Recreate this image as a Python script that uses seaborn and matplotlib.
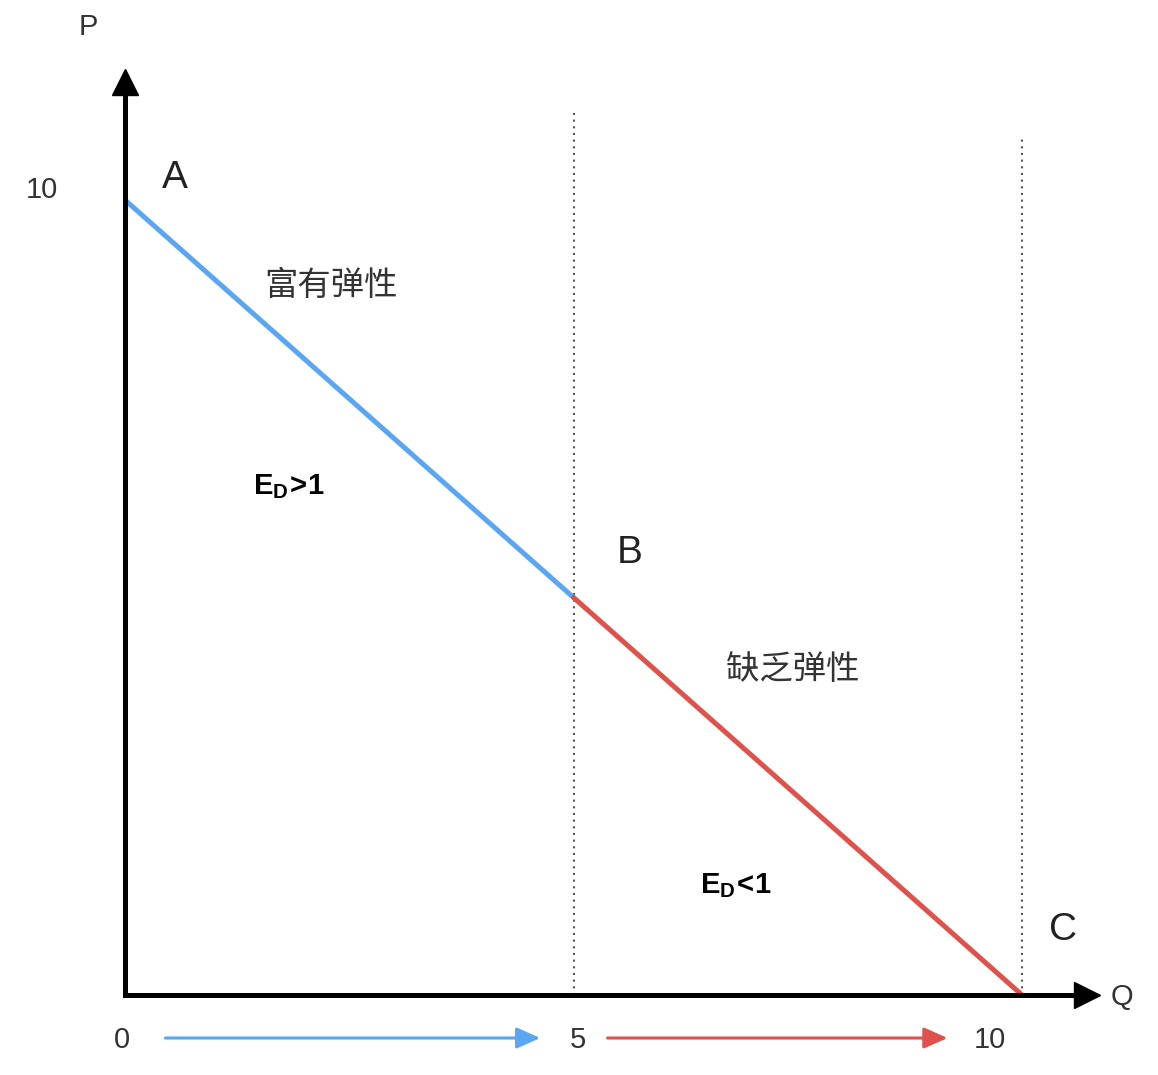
import matplotlib
matplotlib.use("Agg")
from matplotlib import pyplot as plt
import seaborn as sns
import pandas as pd

# demand curve points (Q, P)
elastic_q = [0, 5]
elastic_p = [10, 5]
inelastic_q = [5, 10]
inelastic_p = [5, 0]

# point labels
point_names = ["A", "B", "C"]
point_q = [0.56, 5.63, 10.46]
point_p = [10.28, 5.56, 0.82]

# tick labels on the axes
x_tick_labels = ["0", "5", "10"]
x_tick_pos = [-0.03, 5.05, 9.64]
y_tick_labels = ["10"]
y_tick_pos = [10.13]

# region labels
region_texts = ["富有弹性", "缺乏弹性"]
region_q = [2.30, 7.44]
region_p = [8.93, 4.09]
ed_texts = [r"$\mathbf{E_D\!>\!1}$", r"$\mathbf{E_D\!<\!1}$"]
ed_q = [1.83, 6.81]
ed_p = [6.40, 1.37]

blue = "#5aa6f2"
red = "#df524c"

sns.set_theme(style="white")
plt.rcParams["font.family"] = ["Liberation Sans", "Noto Sans CJK SC", "DejaVu Sans"]
plt.rcParams["mathtext.fontset"] = "custom"
plt.rcParams["mathtext.rm"] = "Liberation Sans"
plt.rcParams["mathtext.bf"] = "Liberation Sans:bold"

fig = plt.figure(figsize=(11.58, 10.75), dpi=100)
ax = fig.add_axes([125 / 1158, 80 / 1075, 975 / 1158, 927 / 1075])
xmax = 975 / 89.7
ymax = 927 / 79.5
ax.set_xlim(0, xmax)
ax.set_ylim(0, ymax)
ax.axis("off")

# dotted guides
ax.vlines(5, 0, (995 - 113) / 79.5, colors="#555555", linestyles=(0, (1, 2.2)), lw=1.5)
ax.vlines(10, 0, (995 - 135) / 79.5, colors="#555555", linestyles=(0, (1, 2.2)), lw=1.5)

# demand curve
df1 = pd.DataFrame({"Q": elastic_q, "P": elastic_p})
df2 = pd.DataFrame({"Q": inelastic_q, "P": inelastic_p})
sns.lineplot(data=df1, x="Q", y="P", color=blue, lw=3.6, ax=ax, zorder=3)
sns.lineplot(data=df2, x="Q", y="P", color=red, lw=3.6, ax=ax, zorder=3)

# axes: L-shaped line plus arrowheads
ax.plot([0, 0, xmax - 0.25], [ymax - 0.3, 0, 0], color="black", lw=3.6,
        solid_joinstyle="miter", clip_on=False, zorder=4)
ax.plot([0], [ymax - 0.17], marker="^", ms=19, color="black", clip_on=False, zorder=4)
ax.plot([xmax - 0.15], [0], marker=">", ms=19, color="black", clip_on=False, zorder=4)

# direction arrows under the Q axis
yb = (995 - 1038) / 79.5
small = "-|>,head_length=0.9,head_width=0.4"
ax.annotate("", xy=(4.63, yb), xytext=(0.45, yb), annotation_clip=False,
            arrowprops=dict(arrowstyle=small, color=blue, lw=2.2, mutation_scale=16,
                            shrinkA=0, shrinkB=0))
ax.annotate("", xy=(9.17, yb), xytext=(5.38, yb), annotation_clip=False,
            arrowprops=dict(arrowstyle=small, color=red, lw=2.2, mutation_scale=16,
                            shrinkA=0, shrinkB=0))

txt = "#333333"
for name, q, p in zip(point_names, point_q, point_p):
    ax.text(q, p, name, fontsize=28, color="#222222", ha="center", va="center")
for lab, q in zip(x_tick_labels, x_tick_pos):
    ax.text(q, -0.57, lab, fontsize=21, color=txt, ha="center", va="center")
for lab, p in zip(y_tick_labels, y_tick_pos):
    ax.text(-0.925, p, lab, fontsize=21, color=txt, ha="center", va="center")
ax.text(-0.41, 12.18, "P", fontsize=21, color=txt, ha="center", va="center")
ax.text(11.11, -0.03, "Q", fontsize=21, color=txt, ha="center", va="center")

for t, q, p in zip(region_texts, region_q, region_p):
    ax.text(q, p, t, fontsize=24, color=txt, ha="center", va="center",
            family=["Noto Sans CJK SC", "DejaVu Sans"])
for t, q, p in zip(ed_texts, ed_q, ed_p):
    ax.text(q, p, t, fontsize=21, color="black", ha="center", va="center")

fig.savefig("out.png", dpi=100)
